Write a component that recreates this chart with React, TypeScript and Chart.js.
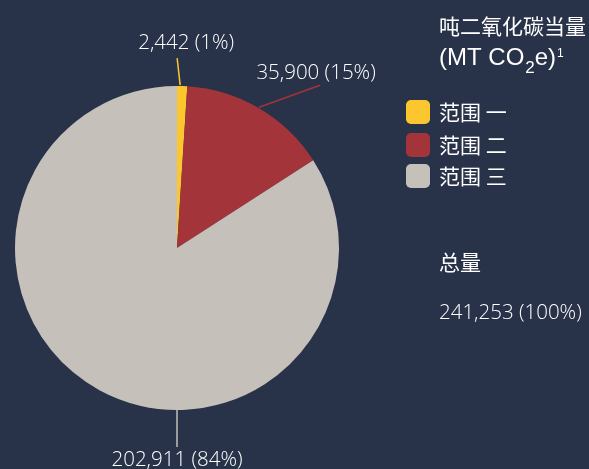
import React, { useEffect, useRef } from 'react';
import { Chart, registerables } from 'chart.js';

Chart.register(...registerables);

const categories = ['范围 一', '范围 二', '范围 三'];
const values = [2442, 35900, 202911];
const valueLabels = ['2,442 (1%)', '35,900 (15%)', '202,911 (84%)'];
const colors = ['#fcc72e', '#a3343a', '#c5c1ba'];
const legendTitle1 = '吨二氧化碳当量';
const totalTitle = '总量';
const totalLabel = '241,253 (100%)';

const BG = '#283249';
const TEXT = '#ffffff';
const FONT = '"Open Sans", "Noto Sans CJK SC", sans-serif';
const CJK = '"Noto Sans CJK SC", sans-serif';
const ARIAL = '"Liberation Sans", Arial, sans-serif';

// annotation layout: anchor angle (deg clockwise from top, null = slice middle), line start shift, line end and text offsets
const labelLayout = [
  { angle: null as number | null, start: [-2, 0], line: [-5, -28], text: [4, -43] },
  { angle: null as number | null, start: [0, 0], line: [61, -23], text: [57, -35] },
  { angle: 180 as number | null, start: [0, 0], line: [0, 37], text: [0, 50] },
];

const annotationPlugin = {
  id: 'annotations',
  afterDatasetsDraw(chart: any) {
    const ctx = chart.ctx as CanvasRenderingContext2D;
    const meta = chart.getDatasetMeta(0);
    ctx.save();
    meta.data.forEach((arc: any, i: number) => {
      const { x, y, startAngle, endAngle, outerRadius } = arc.getProps(
        ['x', 'y', 'startAngle', 'endAngle', 'outerRadius'],
        true
      );
      const L = labelLayout[i];
      const a = L.angle === null ? (startAngle + endAngle) / 2 : (L.angle * Math.PI) / 180 - Math.PI / 2;
      const ax = x + Math.cos(a) * outerRadius;
      const ay = y + Math.sin(a) * outerRadius;
      ctx.strokeStyle = colors[i];
      ctx.lineWidth = 1.5;
      ctx.beginPath();
      ctx.moveTo(ax + L.start[0], ay + L.start[1] - 1);
      ctx.lineTo(ax + L.line[0], ay + L.line[1]);
      ctx.stroke();
      ctx.fillStyle = TEXT;
      ctx.font = `300 20.5px ${FONT}`;
      ctx.textAlign = 'center';
      ctx.textBaseline = 'middle';
      ctx.fillText(valueLabels[i], ax + L.text[0], ay + L.text[1]);
    });

    // legend
    const lx = 439;
    ctx.textAlign = 'left';
    ctx.textBaseline = 'middle';
    ctx.fillStyle = TEXT;
    ctx.font = `21px ${CJK}`;
    ctx.fillText(legendTitle1, lx, 26);

    ctx.textBaseline = 'alphabetic';
    let cx = lx;
    const base = 65;
    ctx.font = `24px ${ARIAL}`;
    ctx.fillText('(MT CO', cx, base);
    cx += ctx.measureText('(MT CO').width;
    ctx.font = `17px ${ARIAL}`;
    ctx.fillText('2', cx + 1, base + 8);
    cx += ctx.measureText('2').width + 1;
    ctx.font = `24px ${ARIAL}`;
    ctx.fillText('e)', cx, base);
    cx += ctx.measureText('e)').width + 1;
    ctx.font = `12px ${ARIAL}`;
    ctx.fillText('1', cx, base - 8);

    ctx.textBaseline = 'middle';
    const rowY = [112, 145, 176];
    categories.forEach((c, i) => {
      ctx.fillStyle = colors[i];
      ctx.beginPath();
      (ctx as any).roundRect(406, rowY[i] - 12, 24, 24, 5);
      ctx.fill();
      ctx.fillStyle = TEXT;
      ctx.font = `21px ${CJK}`;
      ctx.fillText(c, lx, rowY[i]);
    });

    ctx.font = `21px ${CJK}`;
    ctx.fillText(totalTitle, lx, 262);
    ctx.font = `300 20.5px ${FONT}`;
    ctx.fillText(totalLabel, lx, 313);
    ctx.restore();
  },
};

export default function App() {
  const ref = useRef<HTMLCanvasElement>(null);
  useEffect(() => {
    if (!ref.current) return;
    const chart = new Chart(ref.current, {
      type: 'pie',
      data: {
        labels: categories,
        datasets: [
          {
            data: values,
            backgroundColor: colors,
            borderWidth: 0,
          },
        ],
      },
      options: {
        animation: false,
        responsive: false,
        maintainAspectRatio: false,
        layout: { padding: { left: 14, right: 249, top: 86, bottom: 59 } },
        plugins: {
          legend: { display: false },
          tooltip: { enabled: false },
        },
      },
      plugins: [annotationPlugin],
    });
    return () => chart.destroy();
  }, []);
  return (
    <div style={{ position: 'fixed', left: 0, top: 0, width: 589, height: 469, background: BG }}>
      <canvas ref={ref} width={589} height={469} style={{ display: 'block' }} />
    </div>
  );
}
